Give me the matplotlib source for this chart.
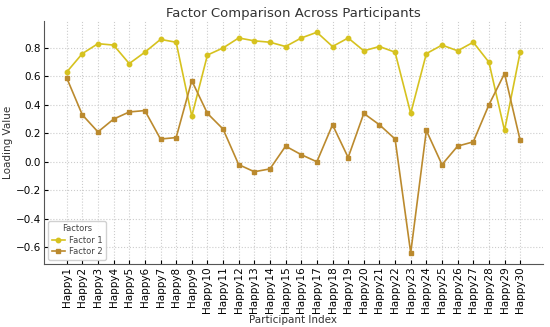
import numpy as np
import matplotlib.pyplot as plt

# participant labels and loadings
participants = [f"Happy{i}" for i in range(1, 31)]
factor1 = [0.63, 0.76, 0.83, 0.82, 0.69, 0.77, 0.86, 0.84, 0.32, 0.75,
           0.80, 0.87, 0.85, 0.84, 0.81, 0.87, 0.91, 0.81, 0.87, 0.78,
           0.81, 0.77, 0.34, 0.76, 0.82, 0.78, 0.84, 0.70, 0.22, 0.77]
factor2 = [0.59, 0.33, 0.21, 0.30, 0.35, 0.36, 0.16, 0.17, 0.57, 0.34,
           0.23, -0.02, -0.07, -0.05, 0.11, 0.05, 0.00, 0.26, 0.03, 0.34,
           0.26, 0.16, -0.64, 0.22, -0.02, 0.11, 0.14, 0.40, 0.62, 0.15]

fig, ax = plt.subplots(figsize=(5.5, 3.27), dpi=100)
ax.plot(participants, factor1, color="#d6c21f", marker="o", markersize=3.2,
        linewidth=1.2, label="Factor 1")
ax.plot(participants, factor2, color="#bb8a2e", marker="s", markersize=2.3,
        linewidth=1.2, label="Factor 2")

ax.set_title("Factor Comparison Across Participants", fontsize=9.5, color="#333333", pad=3)
ax.set_xlabel("Participant Index", fontsize=7.5, color="#333333", labelpad=1)
ax.set_ylabel("Loading Value", fontsize=7.5, color="#333333", labelpad=2)
ax.tick_params(axis="x", labelrotation=90, labelsize=7.5, direction="in", length=3, pad=2)
ax.tick_params(axis="y", labelsize=7.5, direction="in", length=3, pad=2)
ax.set_yticks(np.arange(-0.6, 0.81, 0.2))
ax.grid(True, linestyle=":", color="#cccccc", linewidth=0.8)
for s in ["top", "right"]:
    ax.spines[s].set_visible(False)
for s in ["left", "bottom"]:
    ax.spines[s].set_color("#555555")

leg = ax.legend(title="Factors", loc="lower left", fontsize=6, title_fontsize=6,
                framealpha=0.9, edgecolor="#cccccc", handlelength=1.6,
                borderpad=0.4, labelspacing=0.3, handletextpad=0.5)
leg.get_title().set_color("#444444")
for t in leg.get_texts():
    t.set_color("#444444")

fig.subplots_adjust(left=0.08, right=0.987, top=0.935, bottom=0.193)
fig.savefig("out.png", dpi=100)
